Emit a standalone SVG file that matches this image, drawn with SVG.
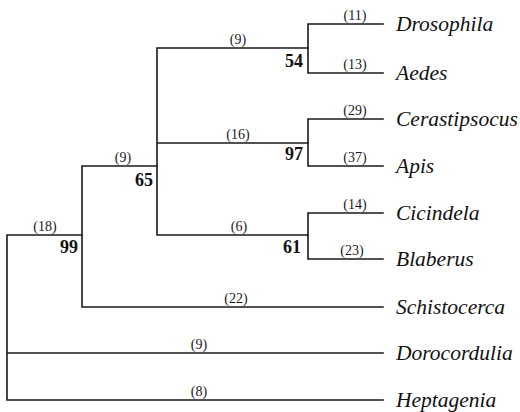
<svg xmlns="http://www.w3.org/2000/svg" width="520" height="412" viewBox="0 0 520 412">
<style>
.br{fill:none;stroke:#1a1a1a;stroke-width:1.6;stroke-linecap:square}
.bl{font-family:"Liberation Serif",serif;font-size:14px;fill:#1a1a1a;text-anchor:middle}
.tx{font-family:"Liberation Serif",serif;font-style:italic;font-size:21.5px;fill:#111}
.sp{font-family:"Liberation Serif",serif;font-weight:bold;font-size:18px;fill:#111;text-anchor:end}
</style>
<rect width="520" height="412" fill="#fff"/>
<g id="connectors">
<path class="br" d="M7 235V400M7 235H82M7 353H383M7 400H383"/>
<path class="br" d="M82 166V307M82 166H157M82 307H383"/>
<path class="br" d="M157 48V235M157 48H308M157 143H308M157 235H308"/>
<path class="br" d="M308 24V73M308 24H383M308 73H383"/>
<path class="br" d="M308 119V166M308 119H383M308 166H383"/>
<path class="br" d="M308 213V259M308 213H383M308 259H383"/>
<g id="branch-lengths">
<text class="bl" x="45" y="231">(18)</text>
<text class="bl" x="123" y="162">(9)</text>
<text class="bl" x="238" y="44">(9)</text>
<text class="bl" x="238" y="139">(16)</text>
<text class="bl" x="239" y="231">(6)</text>
<text class="bl" x="236" y="303">(22)</text>
<text class="bl" x="199" y="349">(9)</text>
<text class="bl" x="199" y="396">(8)</text>
<text class="bl" x="355" y="20">(11)</text>
<text class="bl" x="355" y="69">(13)</text>
<text class="bl" x="355" y="115">(29)</text>
<text class="bl" x="355" y="162">(37)</text>
<text class="bl" x="355" y="209">(14)</text>
<text class="bl" x="352" y="255">(23)</text>
</g>
</g>
<g id="node-99"><text class="sp" x="78" y="253">99</text></g>
<g id="node-65"><text class="sp" x="153" y="186">65</text></g>
<g id="node-54"><text class="sp" x="303" y="67">54</text></g>
<g id="node-97"><text class="sp" x="303" y="160">97</text></g>
<g id="node-61"><text class="sp" x="301" y="253">61</text></g>
<g id="tip-drosophila"><text class="tx" x="396" y="31">Drosophila</text></g>
<g id="tip-aedes"><text class="tx" x="396" y="80">Aedes</text></g>
<g id="tip-cerastipsocus"><text class="tx" x="396" y="126">Cerastipsocus</text></g>
<g id="tip-apis"><text class="tx" x="396" y="173">Apis</text></g>
<g id="tip-cicindela"><text class="tx" x="396" y="220">Cicindela</text></g>
<g id="tip-blaberus"><text class="tx" x="396" y="266">Blaberus</text></g>
<g id="tip-schistocerca"><text class="tx" x="396" y="314">Schistocerca</text></g>
<g id="tip-dorocordulia"><text class="tx" x="396" y="360">Dorocordulia</text></g>
<g id="tip-heptagenia"><text class="tx" x="396" y="407">Heptagenia</text></g>
</svg>
